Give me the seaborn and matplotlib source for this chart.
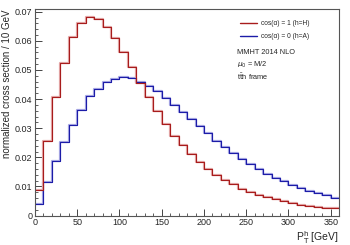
import numpy as np
import pandas as pd
import matplotlib
matplotlib.use("Agg")
import matplotlib.pyplot as plt
import seaborn as sns
from matplotlib.lines import Line2D
from matplotlib.ticker import MultipleLocator

# bin edges 0..360 GeV in steps of 10
bin_edges = list(range(0, 370, 10))
series_names = ["cos(α) = 1 (h=H)", "cos(α) = 0 (h=A)"]
colors = ["#a81c1c", "#1c1ca8"]

red_vals = [0.0088, 0.0257, 0.0406, 0.0525, 0.0612, 0.0660, 0.0682, 0.0676, 0.0649, 0.0609,
            0.0561, 0.0510, 0.0456, 0.0406, 0.0360, 0.0315, 0.0273, 0.0243, 0.0212, 0.0184,
            0.0159, 0.0141, 0.0123, 0.0108, 0.0093, 0.0082, 0.0072, 0.0063, 0.0056, 0.0049,
            0.0044, 0.0038, 0.0034, 0.0031, 0.0027, 0.0025]
blue_vals = [0.0039, 0.0117, 0.0188, 0.0253, 0.0312, 0.0362, 0.0411, 0.0434, 0.0460, 0.0469,
             0.0475, 0.0471, 0.0458, 0.0445, 0.0427, 0.0405, 0.0381, 0.0357, 0.0331, 0.0306,
             0.0282, 0.0257, 0.0237, 0.0215, 0.0196, 0.0177, 0.0159, 0.0144, 0.0130, 0.0119,
             0.0104, 0.0094, 0.0085, 0.0077, 0.0069, 0.0062]

centers = [e + 5 for e in bin_edges[:-1]]
df = pd.DataFrame({
    "pt": centers * 2,
    "w": red_vals + blue_vals,
    "sample": [series_names[0]] * len(centers) + [series_names[1]] * len(centers),
})

sns.set_style("ticks")
plt.rcParams["font.family"] = ["Liberation Sans", "DejaVu Sans"]

fig = plt.figure(figsize=(3.5, 2.45), dpi=100)
ax = fig.add_axes([0.1, 0.12, 0.869, 0.843])

# pale underlay to mimic the soft edge of the original lines
sns.histplot(data=df, x="pt", weights="w", hue="sample", bins=bin_edges,
             element="step", fill=False, palette=["#e4a8a8", "#a8a8e4"],
             linewidth=1.6, legend=False, ax=ax)
sns.histplot(data=df, x="pt", weights="w", hue="sample", bins=bin_edges,
             element="step", fill=False, palette=colors,
             linewidth=0.8, legend=False, ax=ax)

ax.set_xlim(0, 360)
ax.set_ylim(0, 0.0709)
ax.xaxis.set_major_locator(MultipleLocator(50))
ax.xaxis.set_minor_locator(MultipleLocator(10))
ax.yaxis.set_major_locator(MultipleLocator(0.01))
ax.yaxis.set_minor_locator(MultipleLocator(0.002))
ax.set_yticks(np.arange(0, 0.071, 0.01))
ax.set_yticklabels(["0", "0.01", "0.02", "0.03", "0.04", "0.05", "0.06", "0.07"])
ax.tick_params(which="both", direction="in", labelsize=6.5, color="#444444",
               top=False, right=False, pad=2)
ax.tick_params(which="major", length=5, width=0.7)
ax.tick_params(which="minor", length=2.5, width=0.6)
for sp in ax.spines.values():
    sp.set_color("#555555")
    sp.set_linewidth(0.8)

ax.set_xlabel(r"P$_\mathrm{T}^\mathrm{h}$ [GeV]", fontsize=7.5, loc="right", labelpad=1)
ax.set_ylabel("normalized cross section / 10 GeV", fontsize=7, loc="top", labelpad=2)

handles = [Line2D([0], [0], color=c, lw=1.0) for c in colors]
leg = ax.legend(handles, series_names, loc="upper left", bbox_to_anchor=(0.665, 0.96),
                frameon=False, fontsize=4.8, handlelength=2.6, handletextpad=0.6,
                labelspacing=0.9, borderaxespad=0)

ax.text(0.665, 0.805, "MMHT 2014 NLO", transform=ax.transAxes, fontsize=5.3, va="top")
ax.text(0.665, 0.755, r"$\mu_0$ = M/2", transform=ax.transAxes, fontsize=5.3, va="top")
ax.text(0.665, 0.695, r"t$\bar{\mathrm{t}}$h frame", transform=ax.transAxes, fontsize=5.3, va="top")

fig.savefig("out.png", dpi=100)
